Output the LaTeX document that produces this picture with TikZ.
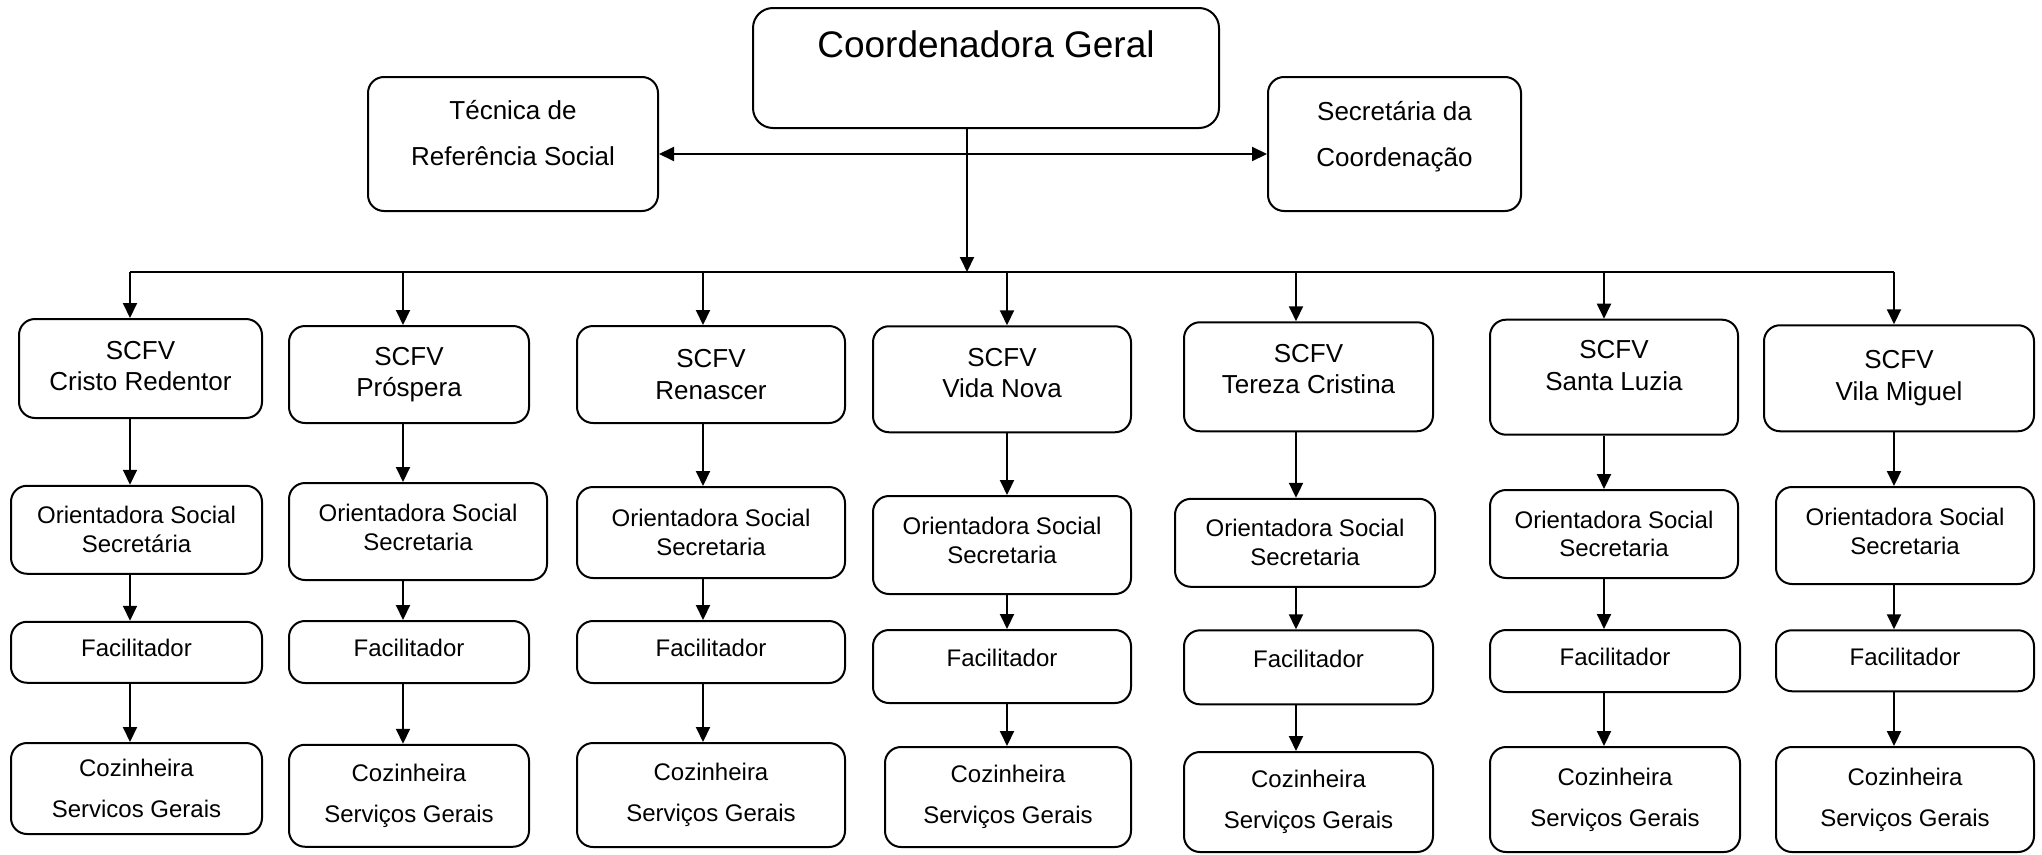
\documentclass[tikz,border=0pt]{standalone}
\usepackage{fontspec}
\setmainfont{Liberation Sans}
\usepackage{tikz}
\usetikzlibrary{arrows.meta}
% raises the text of a box by half of the given depth
\newcommand\liftup[1]{\rule[-#1]{0pt}{#1}}

\begin{document}
\begin{tikzpicture}[x=1pt,y=-1pt,>={Triangle[length=15pt,width=14pt]},
  every node/.style={font=\fontsize{24}{28.8}\selectfont},
  box/.style={draw, line width=2pt, rounded corners=16pt, align=center, inner sep=2pt},
  big/.style={font=\fontsize{26}{31.5}\selectfont},
  line/.style={line width=2pt}]
\useasboundingbox (0,0) rectangle (2042,854);
% topo
\node[box, rounded corners=20pt, minimum width=466pt, minimum height=120pt, text depth=47pt, font=\fontsize{37}{44}\selectfont] (cg) at (986,68) {Coordenadora Geral};
\node[box, big, minimum width=290pt, minimum height=134pt] (tec) at (513,144) {T\'ecnica de\\[14pt]Refer\^encia Social\liftup{22pt}};
\node[box, big, minimum width=253pt, minimum height=134pt] (sec) at (1394.5,144) {Secret\'aria da\\[14pt]Coordena\c{c}\~ao\liftup{20pt}};
\coordinate (hub) at (967,154);
% SCFV
\node[box, big, minimum width=243pt, minimum height=99pt] (s1) at (140.5,368.5) {SCFV\\Cristo Redentor\liftup{5pt}};
\node[box, big, minimum width=240pt, minimum height=97pt] (s2) at (409,374.5) {SCFV\\Pr\'ospera};
\node[box, big, minimum width=268pt, minimum height=97pt] (s3) at (711,374.5) {SCFV\\Renascer};
\node[box, big, minimum width=258pt, minimum height=106pt] (s4) at (1002,379.25) {SCFV\\Vida Nova\liftup{13pt}};
\node[box, big, minimum width=249pt, minimum height=109pt] (s5) at (1308.5,376.75) {SCFV\\Tereza Cristina\liftup{16pt}};
\node[box, big, minimum width=248pt, minimum height=115pt] (s6) at (1614,377.2) {SCFV\\Santa Luzia\liftup{24pt}};
\node[box, big, minimum width=270pt, minimum height=106pt] (s7) at (1899,378.25) {SCFV\\Vila Miguel\liftup{5pt}};
% orientadora
\node[box, minimum width=251pt, minimum height=88pt] (o1) at (136.5,529.75) {Orientadora Social\\Secret\'aria};
\node[box, minimum width=258pt, minimum height=97pt] (o2) at (418,531.5) {Orientadora Social\\Secretaria\liftup{8pt}};
\node[box, minimum width=268pt, minimum height=91pt] (o3) at (711,532.5) {Orientadora Social\\Secretaria};
\node[box, minimum width=258pt, minimum height=98pt] (o4) at (1002,545) {Orientadora Social\\Secretaria\liftup{10pt}};
\node[box, minimum width=260pt, minimum height=88pt] (o5) at (1305,542.8) {Orientadora Social\\Secretaria};
\node[box, minimum width=248pt, minimum height=88pt] (o6) at (1614,534) {Orientadora Social\\Secretaria};
\node[box, minimum width=258pt, minimum height=97pt] (o7) at (1905,535.5) {Orientadora Social\\Secretaria\liftup{8pt}};
% facilitador
\node[box, minimum width=251pt, minimum height=61pt] (f1) at (136.5,652.25) {Facilitador\liftup{8pt}};
\node[box, minimum width=240pt, minimum height=62pt] (f2) at (409,652) {Facilitador\liftup{8pt}};
\node[box, minimum width=268pt, minimum height=62pt] (f3) at (711,652) {Facilitador\liftup{8pt}};
\node[box, minimum width=258pt, minimum height=73pt] (f4) at (1002,666.5) {Facilitador\liftup{18pt}};
\node[box, minimum width=249pt, minimum height=74pt] (f5) at (1308.5,667.3) {Facilitador\liftup{18pt}};
\node[box, minimum width=250pt, minimum height=62pt] (f6) at (1615,661) {Facilitador\liftup{8pt}};
\node[box, minimum width=258pt, minimum height=61pt] (f7) at (1905,660.75) {Facilitador\liftup{8pt}};
% cozinheira
\node[box, minimum width=251pt, minimum height=91pt] (c1) at (136.5,788.5) {Cozinheira\\[12pt]Servicos Gerais};
\node[box, minimum width=240pt, minimum height=102pt] (c2) at (409,795.75) {Cozinheira\\[12pt]Servi\c{c}os Gerais};
\node[box, minimum width=268pt, minimum height=104pt] (c3) at (711,795) {Cozinheira\\[12pt]Servi\c{c}os Gerais};
\node[box, minimum width=246pt, minimum height=100pt] (c4) at (1008,797) {Cozinheira\\[12pt]Servi\c{c}os Gerais};
\node[box, minimum width=249pt, minimum height=100pt] (c5) at (1308.5,802) {Cozinheira\\[12pt]Servi\c{c}os Gerais};
\node[box, minimum width=250pt, minimum height=105pt] (c6) at (1615,799.5) {Cozinheira\\[12pt]Servi\c{c}os Gerais};
\node[box, minimum width=258pt, minimum height=105pt] (c7) at (1905,799.5) {Cozinheira\\[12pt]Servi\c{c}os Gerais};
% barramento
\coordinate (a1) at (130,272);
\coordinate (a2) at (403,272);
\coordinate (a3) at (703,272);
\coordinate (a4) at (1007,272);
\coordinate (a5) at (1296,272);
\coordinate (a6) at (1604,272);
\coordinate (a7) at (1894,272);
\draw[line, <->] (tec.east |- hub) -- (sec.west |- hub);
\draw[line, ->] (cg.south -| hub) -- (hub |- a1);
\draw[line] (a1) -- (a7);
% colunas
\draw[line, ->] (a1) -- (s1.north -| a1);
\draw[line, ->] (s1.south -| a1) -- (o1.north -| a1);
\draw[line, ->] (o1.south -| a1) -- (f1.north -| a1);
\draw[line, ->] (f1.south -| a1) -- (c1.north -| a1);
\draw[line, ->] (a2) -- (s2.north -| a2);
\draw[line, ->] (s2.south -| a2) -- (o2.north -| a2);
\draw[line, ->] (o2.south -| a2) -- (f2.north -| a2);
\draw[line, ->] (f2.south -| a2) -- (c2.north -| a2);
\draw[line, ->] (a3) -- (s3.north -| a3);
\draw[line, ->] (s3.south -| a3) -- (o3.north -| a3);
\draw[line, ->] (o3.south -| a3) -- (f3.north -| a3);
\draw[line, ->] (f3.south -| a3) -- (c3.north -| a3);
\draw[line, ->] (a4) -- (s4.north -| a4);
\draw[line, ->] (s4.south -| a4) -- (o4.north -| a4);
\draw[line, ->] (o4.south -| a4) -- (f4.north -| a4);
\draw[line, ->] (f4.south -| a4) -- (c4.north -| a4);
\draw[line, ->] (a5) -- (s5.north -| a5);
\draw[line, ->] (s5.south -| a5) -- (o5.north -| a5);
\draw[line, ->] (o5.south -| a5) -- (f5.north -| a5);
\draw[line, ->] (f5.south -| a5) -- (c5.north -| a5);
\draw[line, ->] (a6) -- (s6.north -| a6);
\draw[line, ->] (s6.south -| a6) -- (o6.north -| a6);
\draw[line, ->] (o6.south -| a6) -- (f6.north -| a6);
\draw[line, ->] (f6.south -| a6) -- (c6.north -| a6);
\draw[line, ->] (a7) -- (s7.north -| a7);
\draw[line, ->] (s7.south -| a7) -- (o7.north -| a7);
\draw[line, ->] (o7.south -| a7) -- (f7.north -| a7);
\draw[line, ->] (f7.south -| a7) -- (c7.north -| a7);
\end{tikzpicture}
\end{document}
